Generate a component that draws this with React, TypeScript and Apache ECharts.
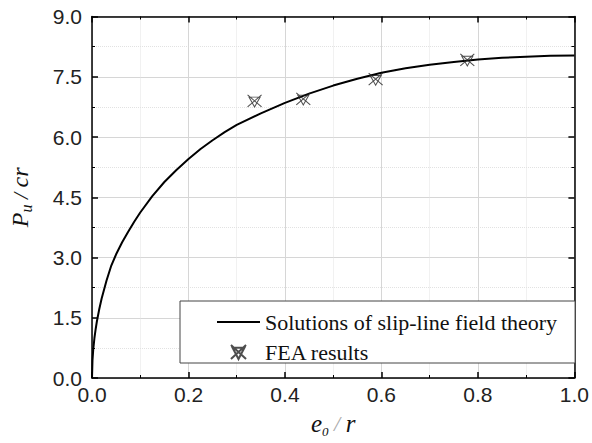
import React, { useEffect, useRef } from "react";
import * as echarts from "echarts";

const curveX = [0, 0.001, 0.0025, 0.005, 0.0075, 0.01, 0.015, 0.02, 0.03, 0.04, 0.05, 0.0625, 0.075, 0.0875, 0.1, 0.125, 0.15, 0.175, 0.2, 0.225, 0.25, 0.275, 0.3, 0.35, 0.4, 0.45, 0.5, 0.55, 0.6, 0.65, 0.7, 0.75, 0.8, 0.85, 0.9, 0.95, 1.0];
const curveY = [0, 0.44, 0.7, 0.99, 1.21, 1.4, 1.71, 1.98, 2.42, 2.8, 3.08, 3.38, 3.64, 3.89, 4.12, 4.53, 4.88, 5.18, 5.45, 5.7, 5.92, 6.12, 6.3, 6.59, 6.85, 7.08, 7.28, 7.45, 7.6, 7.71, 7.8, 7.87, 7.93, 7.97, 8.0, 8.02, 8.03];
const feaX = [0.337, 0.438, 0.588, 0.778];
const feaY = [6.9, 6.95, 7.44, 7.92];
const xTicks = { min: 0, max: 1, interval: 0.2 };
const yTicks = { min: 0, max: 9, interval: 1.5 };
const seriesNames = ["Solutions of slip-line field theory", "FEA results"];

const sans = "'Liberation Sans', Arial, sans-serif";
const serif = "'Liberation Serif', 'Times New Roman', serif";

const markerPath = "path://M0,0L14,13M14,0L0,13M1.5,2.5L12.5,2.5L7,13Z";

function axisCommon(showLabel: boolean) {
  return {
    axisLine: { show: true, onZero: false, lineStyle: { color: "#000", width: 1.5 } },
    axisTick: { show: true, inside: true, length: 6, lineStyle: { color: "#000", width: 1.5 } },
    minorTick: { show: true, splitNumber: 2, length: 3, lineStyle: { color: "#000", width: 1 } },
    axisLabel: {
      show: showLabel,
      fontSize: 21,
      fontFamily: sans,
      color: "#222",
      formatter: (v: number) => v.toFixed(1),
    },
  };
}

export default function App() {
  const ref = useRef<HTMLDivElement>(null);
  useEffect(() => {
    document.body.style.margin = "0";
    if (!ref.current) return;
    const chart = echarts.init(ref.current, undefined, { renderer: "svg" });
    const xc = axisCommon(true);
    const yc = axisCommon(true);
    chart.setOption({
      animation: false,
      backgroundColor: "#fff",
      grid: { left: 83, right: 14, top: 16.5, bottom: 59.5, containLabel: false },
      xAxis: [
        {
          type: "value",
          position: "bottom",
          ...xTicks,
          ...xc,
          axisLabel: { ...xc.axisLabel, margin: 6 },
          splitLine: { show: true, lineStyle: { color: "#d6d6d6", width: 1 } },
          minorSplitLine: { show: true, lineStyle: { color: "#e2e2e2", width: 1, type: "dotted" } },
          name: "{e|e}{sub|0}{sl| / }{r|r}",
          nameLocation: "middle",
          nameGap: 30,
          nameTextStyle: {
            rich: {
              e: { fontFamily: serif, fontStyle: "italic", fontSize: 25, lineHeight: 30, color: "#111" },
              sub: { fontFamily: serif, fontStyle: "italic", fontSize: 13, lineHeight: 13, verticalAlign: "bottom", color: "#111" },
              sl: { fontFamily: serif, fontStyle: "italic", fontSize: 22, lineHeight: 30, color: "#aaa" },
              r: { fontFamily: serif, fontStyle: "italic", fontSize: 25, lineHeight: 30, color: "#111" },
            },
          },
        },
        {
          type: "value",
          position: "top",
          ...xTicks,
          ...axisCommon(false),
          splitLine: { show: false },
        },
      ],
      yAxis: [
        {
          type: "value",
          position: "left",
          ...yTicks,
          ...yc,
          axisLabel: { ...yc.axisLabel, margin: 10 },
          splitLine: { show: true, lineStyle: { color: "#d6d6d6", width: 1 } },
          minorSplitLine: { show: true, lineStyle: { color: "#e2e2e2", width: 1, type: "dotted" } },
          name: "{p|P}{sub|u}{sl| / }{c|cr}",
          nameLocation: "middle",
          nameGap: 58,
          nameRotate: 90,
          nameTextStyle: {
            rich: {
              p: { fontFamily: serif, fontStyle: "italic", fontSize: 24, lineHeight: 28, color: "#111" },
              sub: { fontFamily: serif, fontStyle: "italic", fontSize: 16, lineHeight: 16, verticalAlign: "bottom", color: "#111" },
              sl: { fontFamily: serif, fontStyle: "italic", fontSize: 22, lineHeight: 28, color: "#222" },
              c: { fontFamily: serif, fontStyle: "italic", fontSize: 24, lineHeight: 28, color: "#111" },
            },
          },
        },
        {
          type: "value",
          position: "right",
          ...yTicks,
          ...axisCommon(false),
          splitLine: { show: false },
        },
      ],
      legend: {
        data: [
          { name: seriesNames[0], itemStyle: { opacity: 0 } },
          { name: seriesNames[1] },
        ],
        orient: "vertical",
        left: 180,
        top: 301,
        itemWidth: 43,
        itemHeight: 14,
        itemGap: 8,
        padding: [10, 18, 0, 36],
        borderColor: "#444",
        borderWidth: 1,
        backgroundColor: "#fff",
        textStyle: { fontFamily: serif, fontSize: 22, lineHeight: 22, color: "#111" },
      },
      series: [
        {
          name: seriesNames[0],
          type: "line",
          data: curveX.map((x, i) => [x, curveY[i]]),
          symbol: "none",
          lineStyle: { color: "#000", width: 2 },
          itemStyle: { color: "#000" },
          z: 3,
        },
        {
          name: seriesNames[1],
          type: "scatter",
          data: feaX.map((x, i) => [x, feaY[i]]),
          symbol: markerPath,
          symbolSize: [14, 13],
          symbolKeepAspect: true,
          itemStyle: { color: "rgba(0,0,0,0)", borderColor: "#222", borderWidth: 1 },
          z: 4,
        },
      ],
    });
    return () => chart.dispose();
  }, []);
  return <div ref={ref} style={{ width: 592, height: 443 }} />;
}
